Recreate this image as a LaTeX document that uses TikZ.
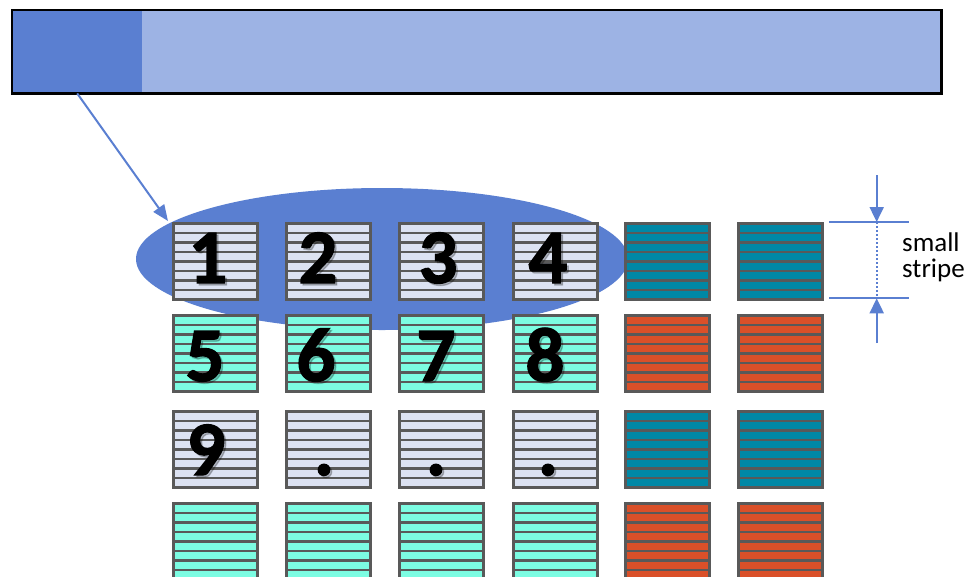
\documentclass[tikz,border=0pt]{standalone}
\usepackage{fontspec}
\setmainfont{Carlito}
\newfontfamily\digfont[BoldFeatures={FakeBold=1.6}]{Carlito}
\usetikzlibrary{shapes.geometric,arrows.meta,calc}
\definecolor{bdark}{HTML}{5A7FD1}
\definecolor{blight}{HTML}{9DB3E4}
\definecolor{pgray}{HTML}{DCE2F2}
\definecolor{pcyan}{HTML}{7CFCE2}
\definecolor{pteal}{HTML}{0088A6}
\definecolor{porange}{HTML}{DA5029}
\definecolor{lgray}{HTML}{595959}
\tikzset{
  sq/.style={rectangle, draw=lgray, line width=2.6pt, minimum width=84pt, minimum height=76pt,
    inner sep=0pt, anchor=north west,
    path picture={\foreach \k in {1,...,7}{\draw[lgray,line width=2.5pt]
      ($(path picture bounding box.north west)+(0,\k*9.5)$) --
      ($(path picture bounding box.north east)+(0,\k*9.5)$);}}},
  digit/.style={anchor=base, inner sep=0pt, font=\fontsize{77}{77}\digfont\bfseries},
  dimline/.style={bdark, line width=2pt},
  dimarrow/.style={bdark, line width=2pt, -{Triangle[length=15pt,width=14pt]}},
}
\begin{document}
\begin{tikzpicture}[x=1pt,y=-1pt]
\useasboundingbox (0,0) rectangle (971,576);
\clip (0,0) rectangle (971,576);
% top bar
\node[rectangle, fill=blight, minimum width=929pt, minimum height=83pt, inner sep=0pt, anchor=north west] (bar) at (12,10) {};
\node[rectangle, fill=bdark, minimum width=130pt, minimum height=83pt, inner sep=0pt, anchor=north west] (seg) at (12,10) {};
\draw[black, line width=2.5pt] (bar.north west) rectangle (bar.south east);
% ellipse
\node[ellipse, fill=bdark, minimum width=492pt, minimum height=142pt, inner sep=0pt] (ell) at (382,259) {};
% squares
\foreach \r/\y/\ca/\cb in {1/222/pgray/pteal, 2/314/pcyan/porange, 3/410/pgray/pteal, 4/502/pcyan/porange}{
  \foreach \c/\x in {1/172,2/285,3/398,4/512}{\node[sq, fill=\ca] (s\r\c) at (\x,\y) {};}
  \foreach \c/\x in {5/624,6/737}{\node[sq, fill=\cb] (s\r\c) at (\x,\y) {};}
}
% digits
\foreach \t/\x/\y [count=\i] in {1/208/283, 2/318/283, 3/438/283, 4/548/283, 5/205/381, 6/316/381, 7/436/381, 8/545/381, 9/206/475, ./324/475, ./436/475, ./548/475}{
  \node[digit, text=black, opacity=0.22] (sh\i) at (\x+2,\y+2) {\t};
  \node[digit, text=black] (d\i) at (\x,\y) {\t};
}
% arrow from bar
\coordinate (tip) at ($(s11.north west)+(-4,-1)$);
\draw[bdark, line width=2pt, -{Triangle[length=16pt,width=13pt]}] (seg.south) -- (tip);
% dimension
\coordinate (h1a) at (829,222); \coordinate (h1b) at (909,222);
\coordinate (h2a) at (829,298.3); \coordinate (h2b) at (909,298.3);
\coordinate (m1) at (876.7,222); \coordinate (m2) at (876.7,298.3);
\coordinate (t1) at (876.7,175); \coordinate (t2) at (876.7,343);
\draw[dimline] (h1a) -- (h1b);
\draw[dimline] (h2a) -- (h2b);
\draw[bdark, line width=2pt, dotted] (m1) -- (m2);
\draw[dimarrow] (t1) -- (m1);
\draw[dimarrow] (t2) -- (m2);
\node[anchor=base west, align=left, inner sep=0pt, font=\fontsize{27}{25.6}\selectfont] (lbl) at (902,277.3) {small\\stripe};
\end{tikzpicture}
\end{document}
